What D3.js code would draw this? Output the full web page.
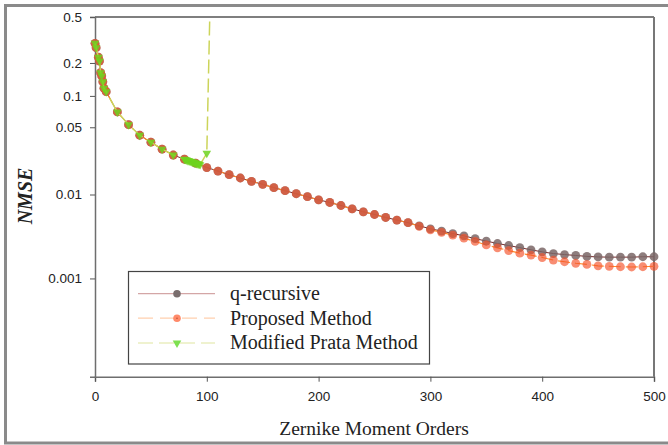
<!DOCTYPE html>
<html>
<head>
<meta charset="utf-8">
<script src="https://cdn.jsdelivr.net/npm/d3@7"></script>
<style>
  html, body { margin: 0; padding: 0; background: #fff; }
  svg { display: block; }
</style>
</head>
<body>
<svg id="chart" width="668" height="445"></svg>
<script>
// Zernike moment orders at which the error was evaluated
const orders = [0, 1, 3, 4, 5, 6, 7, 8, 10,
  20, 30, 40, 50, 60, 70, 80, 90, 100, 110, 120, 130, 140, 150, 160, 170, 180, 190,
  200, 210, 220, 230, 240, 250, 260, 270, 280, 290, 300, 310, 320, 330, 340, 350,
  360, 370, 380, 390, 400, 410, 420, 430, 440, 450, 460, 470, 480, 490, 500];

// NMSE of the q-recursive method
const qRecursive = [0.298, 0.273, 0.225, 0.208, 0.1635, 0.153, 0.1354, 0.118, 0.1094,
  0.0704, 0.0530, 0.0417, 0.0355, 0.0302, 0.0263, 0.0238, 0.0217, 0.0195, 0.0179, 0.01637, 0.0151, 0.01392, 0.01292, 0.01187, 0.01101, 0.0102, 0.00946,
  0.00874, 0.00816, 0.00755, 0.00693, 0.00641, 0.00597, 0.00552, 0.00516, 0.00481, 0.00442, 0.00408, 0.00384, 0.00359, 0.00337, 0.00312, 0.00292,
  0.00273, 0.00258, 0.00243, 0.00229, 0.00216, 0.00206, 0.00200, 0.00195, 0.00190, 0.00187, 0.00186, 0.00186, 0.00186, 0.00188, 0.00188];

// NMSE of the proposed method
const proposed = [0.298, 0.273, 0.225, 0.208, 0.1635, 0.153, 0.1354, 0.118, 0.1094,
  0.0704, 0.0530, 0.0417, 0.0355, 0.0302, 0.0263, 0.0238, 0.0217, 0.0195, 0.0179, 0.01637, 0.0151, 0.01392, 0.01292, 0.01187, 0.01101, 0.0102, 0.00946,
  0.00874, 0.00816, 0.00755, 0.00693, 0.00641, 0.00597, 0.00552, 0.00516, 0.00481, 0.00436, 0.00397, 0.00371, 0.00343, 0.00316, 0.00289, 0.00262,
  0.00242, 0.00224, 0.00208, 0.00197, 0.00184, 0.00171, 0.00163, 0.00156, 0.00151, 0.00145, 0.00143, 0.00141, 0.00140, 0.00141, 0.00143];

// Modified Prata method: stable up to order ~100, then it diverges
const prataOrders = [0, 1, 3, 4, 5, 6, 7, 8, 10, 20, 30, 40, 50, 60, 70,
  80, 81, 82, 83, 84, 85, 86, 87, 88, 89, 90, 91, 92, 93, 94, 100, 110];
const prataValues = [0.298, 0.273, 0.225, 0.208, 0.1635, 0.153, 0.1354, 0.118, 0.1094, 0.0704, 0.0530, 0.0417, 0.0355, 0.0302, 0.0263,
  0.0238, 0.0236, 0.0234, 0.0231, 0.0229, 0.0227, 0.0225, 0.0223, 0.0221, 0.0219, 0.0217, 0.0215, 0.0213, 0.0211, 0.0209, 0.0274, 180];

const xTicks = [0, 100, 200, 300, 400, 500];
const yTicks = [0.001, 0.01, 0.05, 0.1, 0.2, 0.5];
const yTickLabels = ["0.001", "0.01", "0.05", "0.1", "0.2", "0.5"];
const seriesNames = ["q-recursive", "Proposed Method", "Modified Prata Method"];

const svg = d3.select("#chart");
const plotLeft = 95, plotRight = 654, plotTop = 16.9, plotBottom = 376.7;

const x = d3.scaleLinear().domain([0, 500]).range([plotLeft, plotRight]);
// compressed power scale used for the error axis
const y = d3.scalePow().exponent(0.07).domain([3.79e-5, 0.5]).range([plotBottom, plotTop]);

// outer frame
svg.append("rect").attr("x", 5.5).attr("y", 5.5).attr("width", 720).attr("height", 437.5)
  .attr("fill", "none").attr("stroke", "#8a8a8a").attr("stroke-width", 3);

svg.append("defs").append("clipPath").attr("id", "plotclip")
  .append("rect").attr("x", 0).attr("y", plotTop).attr("width", 668).attr("height", plotBottom - plotTop);

// plot box (top and right edges)
svg.append("line").attr("x1", plotLeft).attr("x2", plotRight).attr("y1", plotTop).attr("y2", plotTop)
  .attr("stroke", "#555").attr("stroke-width", 1.5);
svg.append("line").attr("x1", plotRight).attr("x2", plotRight).attr("y1", plotTop).attr("y2", plotBottom)
  .attr("stroke", "#777").attr("stroke-width", 2);

// axes
const xAxis = svg.append("g").attr("transform", `translate(0,${plotBottom})`)
  .call(d3.axisBottom(x).tickValues(xTicks).tickFormat(d3.format("d")).tickSizeOuter(0).tickSize(5).tickPadding(10));
const yAxis = svg.append("g").attr("transform", `translate(${plotLeft},0)`)
  .call(d3.axisLeft(y).tickValues(yTicks).tickFormat((d, i) => yTickLabels[i]).tickSizeOuter(0).tickSize(5).tickPadding(8));
[xAxis, yAxis].forEach(g => {
  g.select(".domain").attr("stroke", "#6e6e6e").attr("stroke-width", 1.5);
  g.selectAll(".tick line").attr("stroke", "#555").attr("stroke-width", 1);
  g.selectAll(".tick text").attr("fill", "#222")
    .style("font-family", "'Liberation Sans', Arial, sans-serif").style("font-size", "13.5px");
});

// axis titles
svg.append("text").attr("x", 374).attr("y", 435)
  .attr("text-anchor", "middle").attr("fill", "#222")
  .style("font-family", "'Liberation Serif', 'Times New Roman', serif").style("font-size", "19.5px")
  .text("Zernike Moment Orders");
svg.append("text").attr("transform", "translate(32,196) rotate(-90)")
  .attr("text-anchor", "middle").attr("fill", "#222")
  .style("font-family", "'Liberation Serif', 'Times New Roman', serif").style("font-size", "20px")
  .style("font-weight", "bold").style("font-style", "italic")
  .text("NMSE");

const qData = orders.map((o, i) => ({ o, v: qRecursive[i] }));
const pData = orders.map((o, i) => ({ o, v: proposed[i] }));
const mData = prataOrders.map((o, i) => ({ o, v: prataValues[i] }));
const line = d3.line().x(d => x(d.o)).y(d => y(d.v));

const plot = svg.append("g");

// q-recursive
plot.append("path").datum(qData).attr("d", line)
  .attr("fill", "none").attr("stroke", "#7a2a2a").attr("stroke-width", 1);
// proposed
plot.append("path").datum(pData).attr("d", line)
  .attr("fill", "none").attr("stroke", "#ff8a2a").attr("stroke-width", 1.2)
  .attr("stroke-dasharray", "12,5");

plot.append("g").selectAll("circle").data(qData).join("circle")
  .attr("cx", d => x(d.o)).attr("cy", d => y(d.v)).attr("r", 4.4)
  .attr("fill", "#7a6666").attr("fill-opacity", 0.85);
plot.append("g").selectAll("circle").data(pData).join("circle")
  .attr("cx", d => x(d.o)).attr("cy", d => y(d.v)).attr("r", 4.4)
  .attr("fill", "#f5522a").attr("fill-opacity", 0.66);

// modified Prata
plot.append("path").datum(mData).attr("d", line).attr("clip-path", "url(#plotclip)")
  .attr("fill", "none").attr("stroke", "#ccd45a").attr("stroke-width", 1.5)
  .attr("stroke-dasharray", "14,5");
const tri = d3.symbol().type(d3.symbolTriangle).size(32);
plot.append("g").attr("clip-path", "url(#plotclip)").selectAll("path").data(mData).join("path")
  .attr("d", tri)
  .attr("transform", d => `translate(${x(d.o)},${y(d.v)}) rotate(180)`)
  .attr("fill", "#6fd41e").attr("fill-opacity", 0.85);

// legend
const lg = svg.append("g");
lg.append("rect").attr("x", 128.5).attr("y", 271.5).attr("width", 301).attr("height", 92.5)
  .attr("fill", "#fff").attr("stroke", "#444").attr("stroke-width", 1.2);
const rows = [293.7, 318.2, 343];
const legendStyles = [
  { stroke: "#d4a6a6", dash: null },
  { stroke: "#ffcfae", dash: "15,7" },
  { stroke: "#e0e6a0", dash: "15,6" }
];
seriesNames.forEach((name, i) => {
  const yy = rows[i];
  const l = lg.append("line").attr("x1", 138).attr("x2", 215).attr("y1", yy).attr("y2", yy)
    .attr("stroke", legendStyles[i].stroke).attr("stroke-width", 1.2);
  if (legendStyles[i].dash) l.attr("stroke-dasharray", legendStyles[i].dash);
  if (i === 0) {
    lg.append("circle").attr("cx", 177).attr("cy", yy).attr("r", 3.8).attr("fill", "#7a6e6e");
  } else if (i === 1) {
    lg.append("circle").attr("cx", 177).attr("cy", yy).attr("r", 3.8).attr("fill", "#ff8a6a");
    lg.append("circle").attr("cx", 177).attr("cy", yy).attr("r", 0.8).attr("fill", "#c05030");
  } else {
    lg.append("path").attr("d", tri).attr("transform", `translate(177,${yy}) rotate(180)`)
      .attr("fill", "#7ee050");
  }
  lg.append("text").attr("x", 230).attr("y", yy + 6.3).attr("fill", "#222")
    .style("font-family", "'Liberation Serif', 'Times New Roman', serif").style("font-size", "20px")
    .text(name);
});
</script>
</body>
</html>
